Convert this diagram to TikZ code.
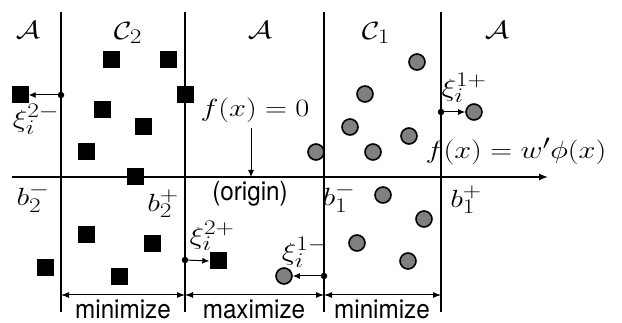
\documentclass[tikz,border=0pt]{standalone}
\usepackage{graphicx}
\usepackage{fontspec}
\newfontfamily\hvfont{TeX Gyre Heros}
\DeclareMathSizes{27}{27}{20}{15}
\usetikzlibrary{arrows.meta}
\newcommand\mlab[1]{\scalebox{1.22}[1]{$#1$}}
\newcommand\wlab[1]{\scalebox{0.97}[1.05]{#1}}
\tikzset{
  sq/.style={fill=black, minimum size=17pt, inner sep=0pt, draw=none},
  ball/.style={circle, draw=black, line width=1.6pt, fill=black!50, minimum size=16pt, inner sep=0pt},
  blackdot/.style={circle, fill=black, minimum size=6.5pt, inner sep=0pt},
  lab/.style={inner sep=0pt, font=\fontsize{27}{31}\selectfont},
  word/.style={inner sep=0pt, font=\hvfont\fontsize{25}{29}\selectfont},
  vline/.style={line width=1.3pt},
  dimarrow/.style={line width=1pt, {Latex[length=8pt,width=6pt]}-{Latex[length=8pt,width=6pt]}},
  ptr/.style={line width=1pt, -{Latex[length=7pt,width=6pt]}},
}
\begin{document}
\begin{tikzpicture}[x=1pt,y=-1pt]
\useasboundingbox[fill=white] (0,0) rectangle (622,323);
% vertical lines
\foreach \n/\x in {1/61,2/185,3/324,4/441}{
  \coordinate (t\n) at (\x,12);
  \coordinate (b\n) at (\x,312);
  \coordinate (d\n) at (\x,295);
  \draw[vline] (t\n) -- (b\n);
}
% axis
\coordinate (ax0) at (12,177);
\coordinate (ax1) at (548,177);
\draw[line width=1.3pt, -{Latex[length=9pt,width=7pt]}] (ax0) -- (ax1);
% region labels
\node[lab] (A1) at (28,30) {\mlab{\mathcal{A}}};
\node[lab] (C2) at (128,33) {\mlab{\mathcal{C}_2}};
\node[lab] (A2) at (260,30) {\mlab{\mathcal{A}}};
\node[lab] (C1) at (376,33) {\mlab{\mathcal{C}_1}};
\node[lab] (A3) at (497,30) {\mlab{\mathcal{A}}};
% squares (class 2)
\foreach \n/\x/\y in {1/20/95,2/111/60,3/168/60,4/185/95,5/102/110,6/143/127,7/86/152,8/135/177,9/86/235,10/152/244,11/45/268,12/119/277,13/218/261}{
  \node[sq] (s\n) at (\x,\y) {};
}
% balls (class 1)
\foreach \n/\x/\y in {1/316/152,2/365/94,3/350/127,4/373/152,5/417/62,6/409/136,7/474/112,8/383/195,9/424/219,10/357/243,11/408/261,12/284/276}{
  \node[ball] (c\n) at (\x,\y) {};
}
% slack dots and arrows
\node[blackdot] (e1) at (61,95) {};
\node[blackdot] (e2) at (441,112) {};
\node[blackdot] (e3) at (185,260) {};
\node[blackdot] (e4) at (324,276) {};
\draw[ptr] (e1) -- (s1.east);
\draw[ptr] (e2) -- (c7.west);
\draw[ptr] (e3) -- (s13.west);
\draw[ptr] (e4) -- (c12.east);
\node[lab] (x1) at (36,119) {\mlab{\xi_i^{2-}}};
\node[lab] (x2) at (464,88) {\mlab{\xi_i^{1+}}};
\node[lab] (x3) at (212,236) {\mlab{\xi_i^{2+}}};
\node[lab] (x4) at (305,252) {\mlab{\xi_i^{1-}}};
% functions
\node[lab] (f0) at (255,110) {\mlab{f(x)=0}};
\coordinate (p0) at (251,128);
\coordinate (p1) at (251,177);
\draw[ptr] (p0) -- (p1);
\node[lab] (fw) at (516,151) {\mlab{f(x)=w'\phi(x)}};
% boundary labels
\node[lab] (b2m) at (33,198) {\mlab{b_2^-}};
\node[lab] (b2p) at (163,204) {\mlab{b_2^+}};
\node[lab] (b1m) at (339,198) {\mlab{b_1^-}};
\node[lab] (b1p) at (466,200) {\mlab{b_1^+}};
\node[word] (org) at (250,194) {\wlab{(origin)}};
% dimension arrows
\draw[dimarrow] (d1) -- (d2);
\draw[dimarrow] (d2) -- (d3);
\draw[dimarrow] (d3) -- (d4);
\node[word] (m1) at (123,309) {\wlab{minimize}};
\node[word] (m2) at (254,309) {\wlab{maximize}};
\node[word] (m3) at (382,309) {\wlab{minimize}};
\end{tikzpicture}
\end{document}
